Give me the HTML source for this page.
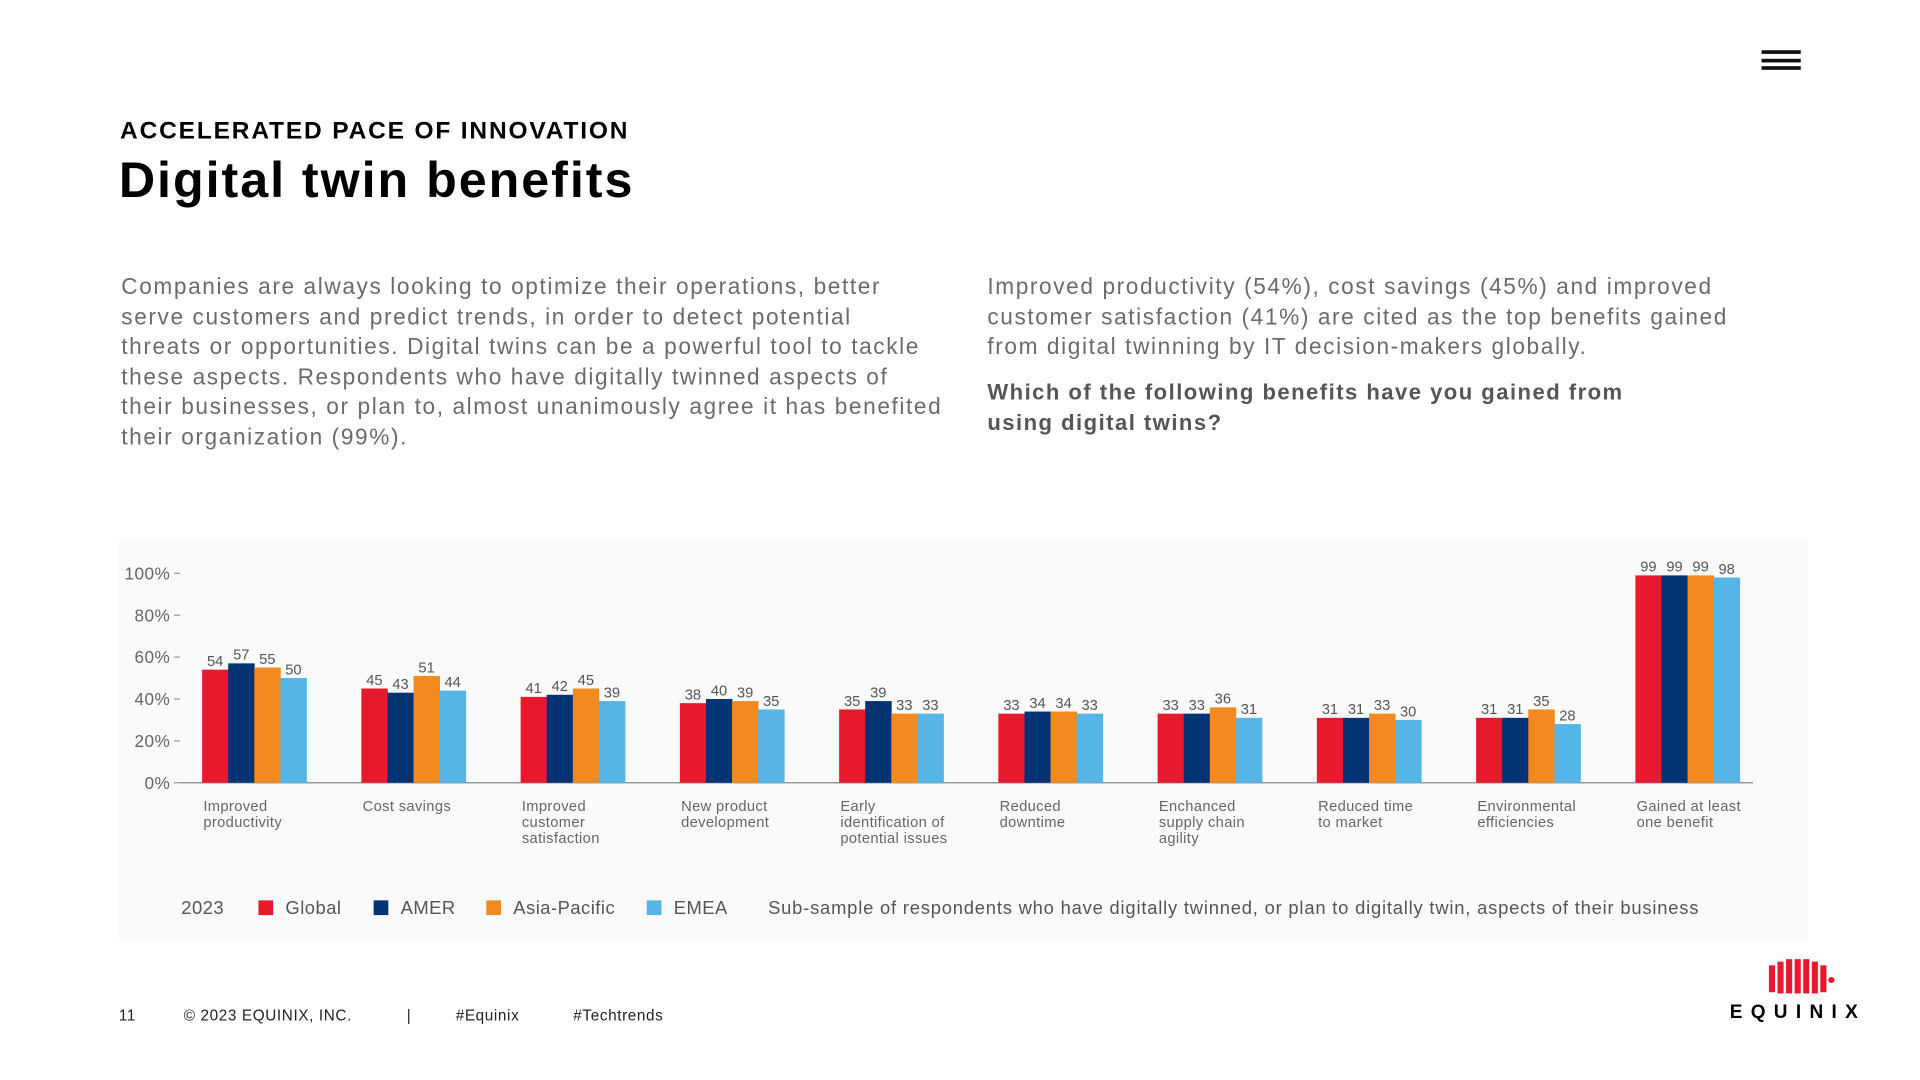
<!DOCTYPE html>
<html><head><meta charset="utf-8"><style>
html,body{margin:0;padding:0;width:1920px;height:1080px;overflow:hidden;background:#fff}
#wrap{position:absolute;left:0;top:0;width:1568px;height:882px;transform:scale(1.225);transform-origin:0 0;font-family:"Liberation Sans",sans-serif}
.abs{position:absolute}
.body{color:#6b6b6b;font-size:18.5px;line-height:24.5px;letter-spacing:1.3px;white-space:nowrap}
</style></head><body>
<div id="wrap">
<div class="abs" style="left:1438px;top:41px;width:32px;height:16px">
<div style="height:3px;background:#111;margin-bottom:3.5px"></div><div style="height:3px;background:#111;margin-bottom:3.5px"></div><div style="height:3px;background:#111"></div></div>
<div class="abs" style="left:98px;top:96px;font-size:20px;font-weight:bold;color:#000;letter-spacing:1.5px">ACCELERATED PACE OF INNOVATION</div>
<div class="abs" style="left:97px;top:124px;font-size:41px;font-weight:bold;color:#000;letter-spacing:1.6px">Digital twin benefits</div>
<div class="abs body" style="left:99px;top:222px">Companies are always looking to optimize their operations, better<br>serve customers and predict trends, in order to detect potential<br>threats or opportunities. Digital twins can be a powerful tool to tackle<br>these aspects. Respondents who have digitally twinned aspects of<br>their businesses, or plan to, almost unanimously agree it has benefited<br>their organization (99%).</div>
<div class="abs body" style="left:806px;top:222px">Improved productivity (54%), cost savings (45%) and improved<br>customer satisfaction (41%) are cited as the top benefits gained<br>from digital twinning by IT decision-makers globally.</div>
<div class="abs" style="left:806px;top:308px;font-size:18px;line-height:24.5px;font-weight:bold;color:#555;letter-spacing:1.2px;white-space:nowrap">Which of the following benefits have you gained from<br>using digital twins?</div>
<div class="abs" style="left:97px;top:440px;width:1379px;height:328px;background:#fafafa"></div>
<svg class="abs" id="chart" style="left:0;top:0" width="1568" height="882"></svg>
<div class="abs" style="left:0;top:733px;width:1568px;height:20px;font-size:15px;color:#555;white-space:nowrap;letter-spacing:0.4px">
<span class="abs" style="left:148px">2023</span>
<span class="abs" style="left:211px"><i style="display:inline-block;width:12px;height:12px;background:#e8192c;margin-right:10px;vertical-align:-1px"></i>Global</span>
<span class="abs" style="left:305px"><i style="display:inline-block;width:12px;height:12px;background:#033372;margin-right:10px;vertical-align:-1px"></i>AMER</span>
<span class="abs" style="left:397px"><i style="display:inline-block;width:12px;height:12px;background:#f28a1f;margin-right:10px;vertical-align:-1px"></i>Asia-Pacific</span>
<span class="abs" style="left:528px"><i style="display:inline-block;width:12px;height:12px;background:#55b5e6;margin-right:10px;vertical-align:-1px"></i>EMEA</span>
<span class="abs" style="left:627px;letter-spacing:0.65px">Sub-sample of respondents who have digitally twinned, or plan to digitally twin, aspects of their business</span>
</div>
<div class="abs" style="left:97px;top:822px;font-size:12.5px;color:#222;white-space:nowrap;letter-spacing:0.5px">
<span>11</span>
<span style="position:absolute;left:53px">©&nbsp;2023 EQUINIX, INC.</span>
<span style="position:absolute;left:235px">|</span>
<span style="position:absolute;left:275px">#Equinix</span>
<span style="position:absolute;left:371px">#Techtrends</span>
</div>
<div class="abs" style="left:1410px;top:782px;width:112px;height:56px">
<svg width="112" height="32" style="position:absolute;left:0;top:0"><g fill="#e8192c"><rect x="34" y="6" width="5" height="22"/><rect x="41" y="3" width="5" height="26"/><rect x="48" y="1" width="5" height="28"/><rect x="55" y="1" width="5" height="28"/><rect x="62" y="1" width="5" height="28"/><rect x="69" y="3" width="5" height="26"/><rect x="76" y="6" width="5" height="22"/><circle cx="85" cy="18" r="2.5"/></g></svg>
<div style="position:absolute;left:2px;top:36px;font-size:15.5px;font-weight:bold;letter-spacing:6.8px;color:#000">EQUINIX</div>
</div>
</div>
<script>
const categories=[["Improved","productivity"],["Cost savings"],["Improved","customer","satisfaction"],["New product","development"],["Early","identification of","potential issues"],["Reduced","downtime"],["Enchanced","supply chain","agility"],["Reduced time","to market"],["Environmental","efficiencies"],["Gained at least","one benefit"]];
const globalVals=[54,45,41,38,35,33,33,31,31,99];
const amerVals=[57,43,42,40,39,34,33,31,31,99];
const apacVals=[55,51,45,39,33,34,36,33,35,99];
const emeaVals=[50,44,39,35,33,33,31,30,28,98];
const yTicks=[0,20,40,60,80,100];
const series=[globalVals,amerVals,apacVals,emeaVals];
const colors=["#e8192c","#033372","#f28a1f","#55b5e6"];
const svg=document.getElementById('chart');
const NS="http://www.w3.org/2000/svg";
const y0=639,y100=468;
function yS(v){return y0-(y0-y100)*v/100;}
function xS(i){return 165+i*130;}
const bw=21.3;
function mk(t,a){const e=document.createElementNS(NS,t);for(const k in a)e.setAttribute(k,a[k]);svg.appendChild(e);return e;}
yTicks.forEach(t=>{
 const tx=mk('text',{x:139,y:yS(t)+5,'text-anchor':'end','font-size':14,fill:'#666','font-family':'Liberation Sans, sans-serif','letter-spacing':0.4});
 tx.textContent=t+'%';
 
 
 const l=mk('line',{x1:142,x2:147,y1:yS(t),y2:yS(t),stroke:'#999'});
 
 
});
const ax=mk('line',{x1:147,x2:1431,y1:y0,y2:y0,stroke:'#999','stroke-width':1.2});


categories.forEach((c,i)=>{
 series.forEach((s,j)=>{
  const x=xS(i)+j*bw;
  const r=mk('rect',{x:x,y:yS(s[i]),width:bw+0.3,height:y0-yS(s[i]),fill:colors[j]});
  
  
  const t=mk('text',{x:x+bw/2,y:yS(s[i])-3,'text-anchor':'middle','font-size':12,fill:'#555','font-family':'Liberation Sans, sans-serif'});
  t.textContent=s[i];
  
  
 });
 c.forEach((line,k)=>{
  const t=mk('text',{x:xS(i)+1,y:662+k*13,'font-size':12,fill:'#666','font-family':'Liberation Sans, sans-serif','letter-spacing':0.3});
  t.textContent=line;
  
  
 });
});
</script>
</body></html>
